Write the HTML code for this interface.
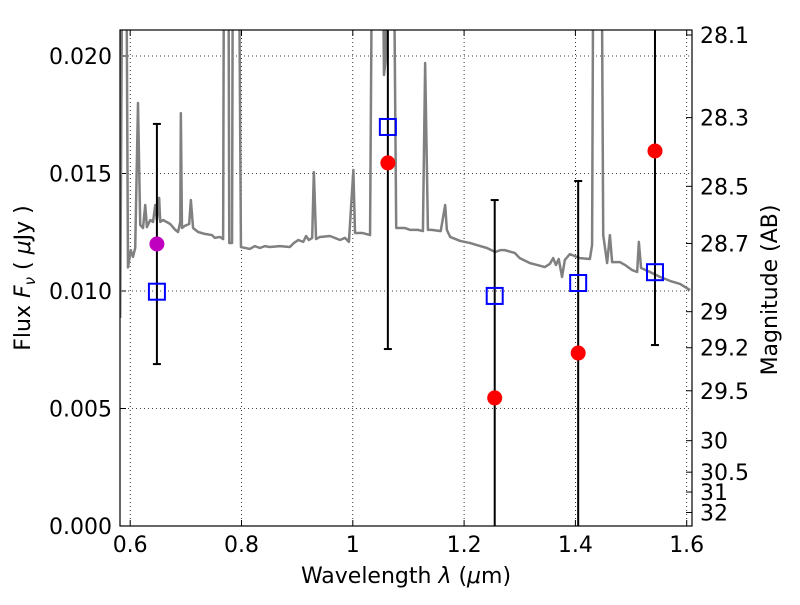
<!DOCTYPE html>
<html><head><meta charset="utf-8"><style>
body{margin:0;background:#fff}
svg text{font-family:"DejaVu Sans","Liberation Sans",sans-serif;fill:#000}
</style></head><body>
<svg id="chart" width="800" height="600" xmlns="http://www.w3.org/2000/svg"></svg>
<script>
const specLam=[0.582,0.587,0.592,0.596,0.601,0.605,0.609,0.614,0.618,0.623,0.627,0.630,0.636,0.641,0.645,0.648,0.652,0.654,0.659,0.672,0.681,0.686,0.690,0.691,0.693,0.698,0.706,0.709,0.713,0.722,0.734,0.747,0.752,0.761,0.767,0.769,0.776,0.778,0.783,0.785,0.794,0.799,0.815,0.824,0.833,0.842,0.851,0.869,0.887,0.894,0.902,0.911,0.916,0.921,0.927,0.930,0.934,0.941,0.959,0.977,0.986,0.993,1.001,1.004,1.017,1.031,1.036,1.052,1.056,1.059,1.063,1.072,1.078,1.094,1.103,1.117,1.126,1.130,1.135,1.142,1.158,1.166,1.169,1.175,1.193,1.211,1.229,1.241,1.256,1.265,1.273,1.291,1.300,1.318,1.331,1.345,1.354,1.360,1.365,1.370,1.376,1.381,1.390,1.408,1.426,1.430,1.433,1.446,1.450,1.457,1.462,1.466,1.480,1.489,1.502,1.511,1.514,1.518,1.534,1.552,1.570,1.588,1.606];
const specFlux=[0.00885,0.03,0.03,0.0110,0.01174,0.01145,0.01183,0.0180,0.01281,0.01268,0.01366,0.01272,0.01302,0.01294,0.01366,0.01302,0.01396,0.01294,0.01302,0.01285,0.0126,0.01251,0.01294,0.01757,0.01268,0.01277,0.01285,0.01387,0.01268,0.01251,0.01243,0.01238,0.01226,0.0123,0.01221,0.03,0.03,0.01204,0.01204,0.03,0.03,0.01187,0.01179,0.01191,0.01183,0.01191,0.01187,0.01191,0.01187,0.01204,0.01217,0.01209,0.01234,0.01217,0.01226,0.01506,0.01221,0.0123,0.01234,0.01217,0.01226,0.01209,0.01515,0.01247,0.01247,0.01238,0.03,0.03,0.01919,0.0198,0.03,0.03,0.01268,0.01268,0.0126,0.0126,0.01255,0.0197,0.0126,0.0126,0.01255,0.01366,0.0126,0.0123,0.01213,0.01204,0.01191,0.01183,0.01166,0.01174,0.01174,0.01162,0.0114,0.01119,0.01111,0.01102,0.01115,0.0114,0.01111,0.01136,0.0106,0.01132,0.01157,0.0114,0.01136,0.01196,0.03,0.03,0.01238,0.01119,0.01238,0.01123,0.01123,0.01111,0.01089,0.01081,0.01209,0.01098,0.01081,0.0106,0.01043,0.0103,0.01004];
const bandLam=[0.648,1.063,1.255,1.405,1.543];
const modelFlux=[0.00997,0.01698,0.00979,0.01034,0.0108];
const obsFlux=[0.0120,0.01545,0.00545,0.00736,0.01596];
const errLo=[0.00689,0.00753,-0.001,-0.001,0.0077];
const errHi=[0.01711,0.03,0.01387,0.01468,0.03];
const xTicks=[0.6,0.8,1.0,1.2,1.4,1.6];
const xTickLabels=["0.6","0.8","1","1.2","1.4","1.6"];
const yTicks=[0,0.005,0.010,0.015,0.020];
const yTickLabels=["0.000","0.005","0.010","0.015","0.020"];
const magTicks=[28.1,28.3,28.5,28.7,29,29.2,29.5,30,30.5,31,32];
const magTickLabels=["28.1","28.3","28.5","28.7","29","29.2","29.5","30","30.5","31","32"];

const L=120,R=692,T=30,B=526;
function X(v){return 130.2+(v-0.6)*556.5;}
function Y(v){return 526-v*23500;}
const NS="http://www.w3.org/2000/svg";
const svg=document.getElementById('chart');
function mk(t,a,p){const e=document.createElementNS(NS,t);for(const k in a)e.setAttribute(k,a[k]);(p||svg).appendChild(e);return e;}
const defs=mk('defs',{});
const cp=mk('clipPath',{id:'clip'},defs);mk('rect',{x:L,y:T,width:R-L,height:B-T},cp);
xTicks.forEach((t,i)=>{
 const g=mk('line',{x1:X(t),x2:X(t),y1:T,y2:B,stroke:'#000','stroke-width':0.8,'stroke-dasharray':'1,3'});
 
 
 const tk=mk('line',{x1:X(t),x2:X(t),y1:B,y2:B-6,stroke:'#000'});
 
 
 mk('line',{x1:X(t),x2:X(t),y1:T,y2:T+6,stroke:'#000'});
 const tx=mk('text',{x:X(t),y:B+26,'text-anchor':'middle','font-size':22});tx.textContent=xTickLabels[i];
 
 
});
yTicks.forEach((t,i)=>{
 const g=mk('line',{x1:L,x2:R,y1:Y(t),y2:Y(t),stroke:'#000','stroke-width':0.8,'stroke-dasharray':'1,3'});
 
 
 mk('line',{x1:L,x2:L+6,y1:Y(t),y2:Y(t),stroke:'#000'});
 const tx=mk('text',{x:L-8,y:Y(t)+8,'text-anchor':'end','font-size':22});tx.textContent=yTickLabels[i];
 
 
});
magTicks.forEach((m,i)=>{
 const f=Math.pow(10,(23.9-m)/2.5);
 const y=Y(f);
 mk('line',{x1:R,x2:R-6,y1:y,y2:y,stroke:'#000'});
 const tx=mk('text',{x:R+8,y:y+8,'font-size':22});tx.textContent=magTickLabels[i];
 
 
});
const gp=mk('g',{'clip-path':'url(#clip)'});
const sp=mk('polyline',{points:specLam.map((l,i)=>X(l)+','+Y(specFlux[i])).join(' '),fill:'none',stroke:'#808080','stroke-width':2.5,'stroke-linejoin':'round'},gp);


bandLam.forEach((l,i)=>{
 const x=X(l);
 const e=mk('line',{x1:x,x2:x,y1:Y(errHi[i]),y2:Y(errLo[i]),stroke:'#000','stroke-width':2},gp);
 
 
 [errHi[i],errLo[i]].forEach(v=>{const y=Y(v);if(y>T&&y<B)mk('line',{x1:x-4,x2:x+4,y1:y,y2:y,stroke:'#000','stroke-width':2},gp);});
});
bandLam.forEach((l,i)=>{
 const s=mk('rect',{x:X(l)-8,y:Y(modelFlux[i])-8,width:16,height:16,fill:'none',stroke:'#0000ff','stroke-width':2},gp);
 
 
 const c=mk('circle',{cx:X(l),cy:Y(obsFlux[i]),r:7.5,fill:i===0?'#bf00bf':'#ff0000'},gp);
 
 
});
const fr=mk('rect',{x:L,y:T,width:R-L,height:B-T,fill:'none',stroke:'#000','stroke-width':1.2});


const xl=mk('text',{x:406,y:583,'text-anchor':'middle','font-size':22});xl.innerHTML='Wavelength  <tspan font-style="italic">λ</tspan> (<tspan font-style="italic">μ</tspan>m)';


const yl=mk('text',{transform:'translate(30,278) rotate(-90)','text-anchor':'middle','font-size':22});yl.innerHTML='Flux  <tspan font-style="italic">F</tspan><tspan font-style="italic" font-size="15" dy="5">ν</tspan><tspan dy="-5">  ( </tspan><tspan font-style="italic">μ</tspan>Jy )';


const rl=mk('text',{transform:'translate(777,290) rotate(-90)','text-anchor':'middle','font-size':22});rl.textContent='Magnitude (AB)';


</script>
</body></html>
